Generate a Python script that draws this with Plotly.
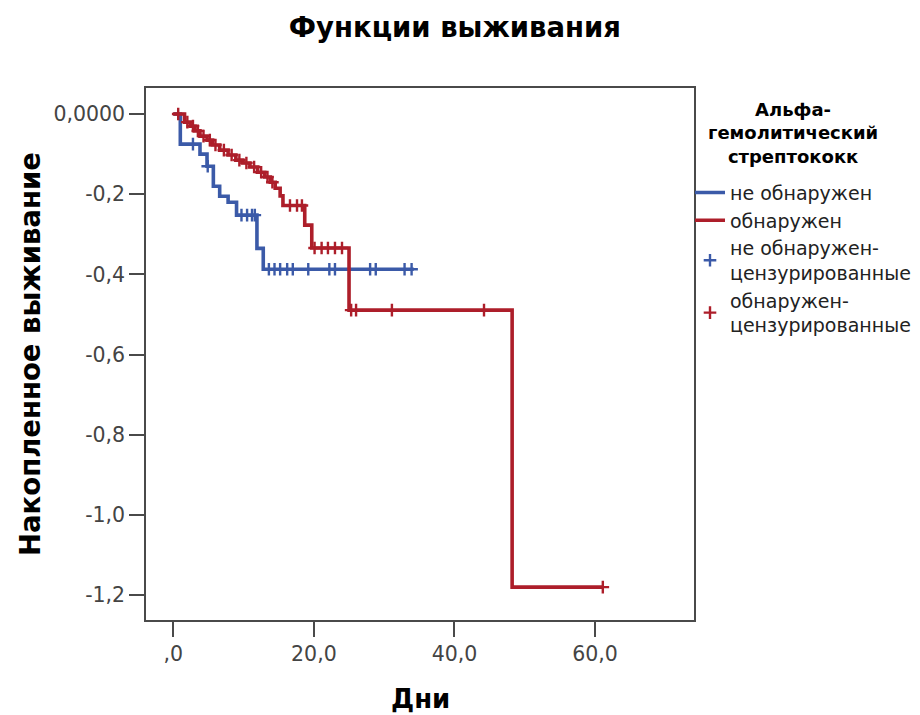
import plotly.graph_objects as go
import bisect

# ---- data ----
blue_t = [0, 1.0, 3.8, 4.8, 5.7, 6.6, 7.8, 9.0, 11.9, 12.8, 34.2]
blue_s = [0, -0.075, -0.100, -0.130, -0.180, -0.205, -0.220, -0.252, -0.335, -0.387, -0.387]
blue_cens_t = [2.8, 4.9, 9.7, 10.5, 11.2, 11.6, 13.6, 14.4, 15.2, 16.2, 17.0, 19.2,
               22.2, 23.0, 28.0, 28.8, 32.9, 33.9]

red_t = [0, 1.6, 2.4, 3.1, 3.8, 4.8, 5.6, 6.6, 7.8, 8.9, 9.9, 10.9, 12.0, 13.0, 13.8,
         14.5, 15.2, 15.6, 18.7, 19.7, 25.0, 48.2, 61.1]
red_s = [0, -0.020, -0.030, -0.042, -0.055, -0.065, -0.077, -0.090, -0.102, -0.115,
         -0.122, -0.132, -0.145, -0.157, -0.170, -0.185, -0.204, -0.228, -0.277, -0.334,
         -0.489, -1.180, -1.180]
red_cens_t = [0.7, 2.0, 2.8, 3.5, 4.3, 5.2, 6.0, 7.2, 8.3, 9.4, 10.4, 11.5, 12.5, 13.4,
              14.1, 16.6, 17.6, 18.3, 20.1, 21.1, 22.0, 23.0, 24.0, 25.3, 26.0, 31.1, 44.2, 61.1]

x_tickvals = [0, 20, 40, 60]
x_ticktext = [",0", "20,0", "40,0", "60,0"]
y_tickvals = [0, -0.2, -0.4, -0.6, -0.8, -1.0, -1.2]
y_ticktext = ["0,0000", "-0,2", "-0,4", "-0,6", "-0,8", "-1,0", "-1,2"]

names = ["не обнаружен", "обнаружен",
         "не обнаружен-<br>цензурированные", "обнаружен-<br>цензурированные"]
legend_title = "Альфа-<br>гемолитический<br>стрептококк"

BLUE = "#3b5aa8"
RED = "#ad1e2a"
FONT = "DejaVu Sans"


def step_at(t, ts, ss):
    i = bisect.bisect_right(ts, t) - 1
    return ss[max(i, 0)]


fig = go.Figure()
fig.add_trace(go.Scatter(x=blue_t, y=blue_s, mode="lines", line=dict(color=BLUE, width=3.6, shape="hv"),
                         name=names[0]))
fig.add_trace(go.Scatter(x=red_t, y=red_s, mode="lines", line=dict(color=RED, width=3.6, shape="hv"),
                         name=names[1]))
fig.add_trace(go.Scatter(x=blue_cens_t, y=[step_at(t, blue_t, blue_s) for t in blue_cens_t],
                         mode="markers",
                         marker=dict(symbol="cross-thin", size=9, color=BLUE, line=dict(color=BLUE, width=2.4)),
                         name=names[2]))
fig.add_trace(go.Scatter(x=red_cens_t, y=[step_at(t, red_t, red_s) for t in red_cens_t],
                         mode="markers",
                         marker=dict(symbol="cross-thin", size=9, color=RED, line=dict(color=RED, width=2.4)),
                         name=names[3]))

axis_common = dict(showgrid=False, zeroline=False, showline=True, mirror=True,
                   linecolor="#4a4a4a", linewidth=1.5, ticks="outside", ticklen=15,
                   tickcolor="#4a4a4a", tickwidth=1.5,
                   tickfont=dict(family=FONT, size=20.5, color="#444444"))

# page body has an 8px margin, so the figure is 8px smaller than the window
fig.update_layout(
    width=912, height=707,
    paper_bgcolor="white", plot_bgcolor="white",
    margin=dict(l=138, r=226, t=80, b=95, autoexpand=False),
    title=dict(text="<b>Функции выживания</b>", x=0.490, xanchor="center", y=0.973, yanchor="middle",
               font=dict(family=FONT, size=27.5, color="black")),
    xaxis=dict(range=[-3.88, 74.07], tickvals=x_tickvals, ticktext=x_ticktext, **axis_common),
    yaxis=dict(range=[-1.262, 0.065], tickvals=y_tickvals, ticktext=y_ticktext, **axis_common),
    legend=dict(x=0.9927, xanchor="left", y=0.839, yanchor="top",
                font=dict(family=FONT, size=19, color="#222222"),
                tracegroupgap=0, bgcolor="rgba(0,0,0,0)"),
    annotations=[
        dict(text="<b>Накопленное выживание</b>", xref="paper", yref="paper",
             x=-0.2117, y=0.5, textangle=-90, showarrow=False, xanchor="center", yanchor="middle",
             font=dict(family=FONT, size=27.5, color="black")),
        dict(text="<b>Дни</b>", xref="paper", yref="paper",
             x=0.5, y=-0.148, showarrow=False, xanchor="center", yanchor="middle",
             font=dict(family=FONT, size=26, color="black")),
        dict(text="<b>" + legend_title + "</b>", xref="paper", yref="paper",
             x=1.1807, y=0.9154, showarrow=False, xanchor="center", yanchor="middle", align="center",
             font=dict(family=FONT, size=18, color="black")),
    ],
)

fig.write_html("out.html")
